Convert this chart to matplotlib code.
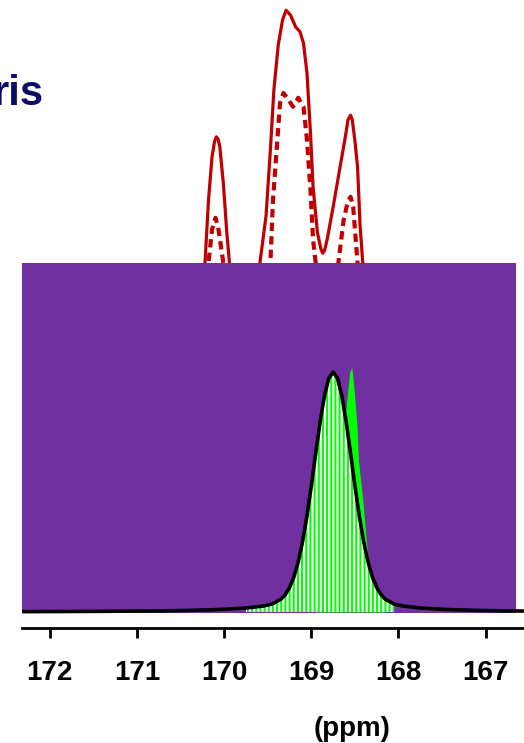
import matplotlib.pyplot as plt
from matplotlib.patches import Rectangle
import numpy as np

plt.rcParams['font.family'] = ['Liberation Sans', 'DejaVu Sans']
plt.rcParams['font.weight'] = 'bold'
plt.rcParams['hatch.linewidth'] = 1.5

# 13C carbonyl region, chemical shift in ppm
x_left, x_right = 172.32, 166.56
tick_vals = [172, 171, 170, 169, 168, 167]

# upper traces (solid and dashed), arbitrary intensity
red_solid_ppm = [172.32, 170.60, 170.35, 170.22, 170.18, 170.14, 170.11, 170.09, 170.07,
                 170.05, 170.01, 169.97, 169.94, 169.82, 169.70, 169.59, 169.52, 169.47,
                 169.43, 169.38, 169.33, 169.29, 169.24, 169.18, 169.13, 169.09, 169.05,
                 169.01, 168.98, 168.93, 168.89, 168.87, 168.85, 168.82, 168.75, 168.67,
                 168.61, 168.58, 168.55, 168.53, 168.50, 168.47, 168.44, 168.41, 168.37,
                 168.21, 166.56]
red_solid_int = [0.05, 0.20, 0.40, 0.562, 0.667, 0.738, 0.765, 0.772, 0.768,
                 0.755, 0.695, 0.612, 0.562, 0.467, 0.45, 0.562, 0.640, 0.750,
                 0.850, 0.925, 0.967, 0.983, 0.975, 0.955, 0.947, 0.928, 0.878,
                 0.778, 0.688, 0.612, 0.585, 0.578, 0.582, 0.600, 0.655, 0.722,
                 0.772, 0.800, 0.808, 0.800, 0.765, 0.722, 0.622, 0.562, 0.45,
                 0.33, 0.05]

red_dash_ppm = [172.32, 170.60, 170.30, 170.18, 170.14, 170.10, 170.07, 170.01, 169.87,
                169.56, 169.47, 169.44, 169.39, 169.36, 169.32, 169.26, 169.21, 169.15,
                169.09, 169.05, 169.01, 168.98, 168.95, 168.84, 168.72, 168.69, 168.63,
                168.58, 168.55, 168.52, 168.47, 168.38, 168.20, 166.56]
red_dash_int = [0.04, 0.18, 0.38, 0.562, 0.617, 0.637, 0.622, 0.562, 0.45,
                0.45, 0.562, 0.667, 0.767, 0.828, 0.845, 0.833, 0.822, 0.837,
                0.822, 0.767, 0.683, 0.600, 0.562, 0.467, 0.50, 0.562, 0.633,
                0.665, 0.672, 0.655, 0.562, 0.45, 0.30, 0.04]

# lower panel: fitted line shape and measured peak
fit_ppm = np.array([172.32, 171.50, 170.75, 170.45, 170.05, 169.75, 169.55, 169.45, 169.35,
                    169.30, 169.25, 169.20, 169.15, 169.10, 169.05, 169.00, 168.95, 168.90,
                    168.85, 168.80, 168.75, 168.70, 168.65, 168.60, 168.55, 168.50, 168.45,
                    168.40, 168.35, 168.30, 168.25, 168.20, 168.15, 168.05, 167.95, 167.75,
                    167.45, 167.05, 166.56])
fit_int = np.array([0.0015, 0.0025, 0.0046, 0.0063, 0.0104, 0.0166, 0.025, 0.033, 0.053,
                    0.072, 0.102, 0.146, 0.209, 0.294, 0.401, 0.526, 0.661, 0.791,
                    0.900, 0.974, 1.000, 0.974, 0.900, 0.791, 0.661, 0.526, 0.401,
                    0.294, 0.209, 0.146, 0.102, 0.072, 0.053, 0.033, 0.025, 0.0166,
                    0.0104, 0.0063, 0.0039])

peak_ppm = [168.95, 168.88, 168.78, 168.70, 168.65, 168.61, 168.58, 168.56, 168.535,
            168.505, 168.475, 168.46, 168.41, 168.37, 168.34, 168.31, 168.27, 168.22, 168.15]
peak_int = [0.0, 0.05, 0.15, 0.38, 0.60, 0.82, 0.93, 1.00, 1.02,
            0.91, 0.77, 0.633, 0.467, 0.30, 0.20, 0.12, 0.06, 0.03, 0.0]

fig = plt.figure(figsize=(5.24, 7.43), dpi=100)
W, H = 524, 743

# upper traces sit behind the lower panel; axes ends just below the panel top
ax_top = fig.add_axes([22 / W, (H - 270) / H, (W - 22) / W, 270 / H])
ax_top.plot(red_solid_ppm, red_solid_int, color='#C00000', lw=2.3)
ax_top.plot(red_dash_ppm, red_dash_int, color='#C00000', lw=3.0, dashes=(2.0, 1.25))
ax_top.set_xlim(x_left, x_right)
ax_top.set_ylim(0.55, 1.0)
ax_top.axis('off')

ax = fig.add_axes([22 / W, (H - 628) / H, (W - 22) / W, 365 / H])
ax.set_zorder(2)
ax.patch.set_visible(False)
ax.set_xlim(x_left, x_right)
ax.set_ylim(-16 / 240, 349 / 240)

ax.add_patch(Rectangle((0, -0.004), (516 - 22) / (W - 22), 2.0,
                       transform=ax.get_yaxis_transform(), facecolor='#7030A0',
                       edgecolor='none', zorder=1))
ax.fill_between(peak_ppm, peak_int, 0, color='#00FF00', lw=0, zorder=2)
mask = (fit_ppm <= 169.85) & (fit_ppm >= 168.0)
ax.fill_between(fit_ppm[mask], fit_int[mask], 0, facecolor='white', edgecolor='#00FF00',
                hatch='||||', lw=0, zorder=3)
ax.plot(fit_ppm, fit_int, color='black', lw=2.6, zorder=4)

for side in ['left', 'right', 'top']:
    ax.spines[side].set_visible(False)
ax.spines['bottom'].set_linewidth(2)
ax.set_yticks([])
ax.set_xticks(tick_vals)
ax.set_xticklabels([str(t) for t in tick_vals])
ax.tick_params(axis='x', direction='out', length=7, width=2, pad=16, labelsize=20)
for lbl in ax.get_xticklabels():
    lbl.set_fontweight('bold')

fig.text(352 / W, 1 - 729 / H, '(ppm)', ha='center', va='center', fontsize=20, fontweight='bold')
fig.text(43 / W, 1 - 105 / H, 'ris', ha='right', va='baseline', fontsize=30,
         fontweight='bold', color='#0E0B66')

fig.savefig('out.png', dpi=100)
